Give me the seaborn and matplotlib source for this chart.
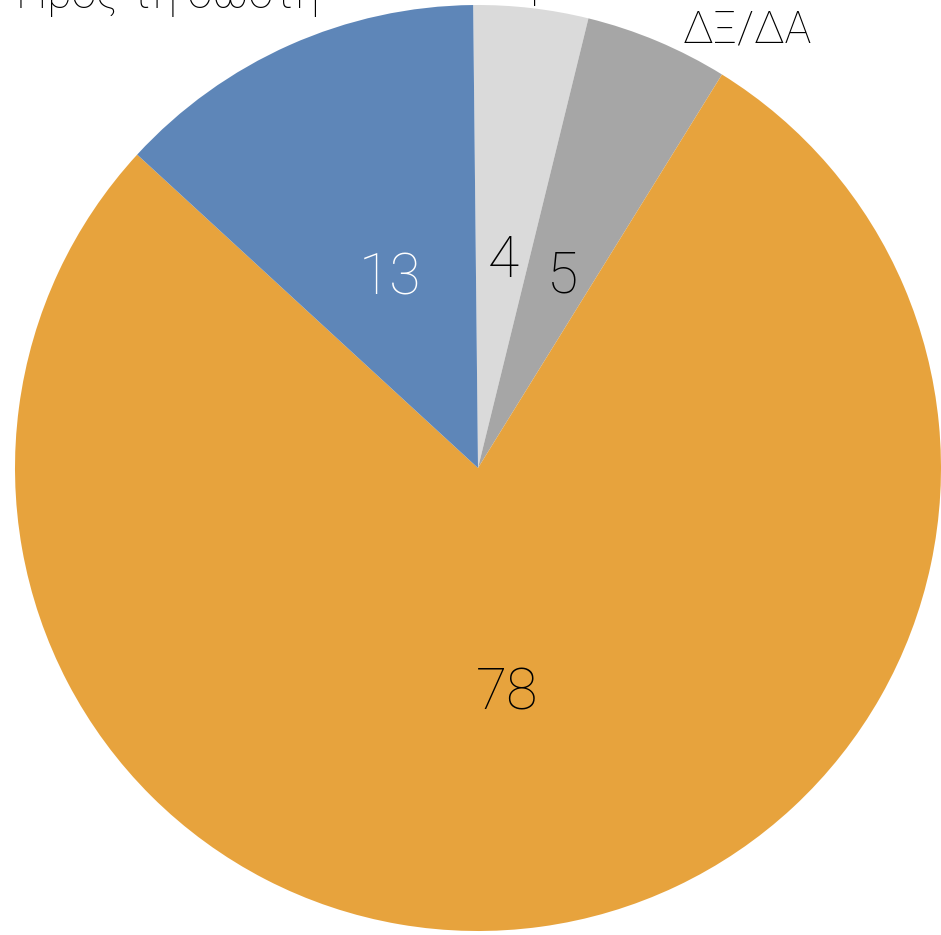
import matplotlib
matplotlib.use('Agg')
import matplotlib.pyplot as plt
from matplotlib.transforms import offset_copy
import seaborn as sns

# δεδομένα (δεξιόστροφα από την κορυφή)
categories = ['Καμία', 'ΔΞ/ΔΑ', '', 'Προς τη σωστή']
values = [4, 5, 78, 13]
slice_colors = ['#DADADA', '#A6A6A6', '#E7A33D', '#5E86B8']
value_colors = ['black', 'black', 'black', 'white']

sns.set_theme(style='white')
plt.rcParams['font.family'] = ['Roboto', 'DejaVu Sans']

fig = plt.figure(figsize=(9.41, 9.35), dpi=100)
ax = fig.add_axes([15 / 941, 4 / 935, 926 / 941, 926 / 935])

wedges, _, autotexts = ax.pie(
    values,
    colors=slice_colors,
    startangle=90.6,
    counterclock=False,
    radius=1.0,
    autopct=lambda p: f'{p:.0f}',
    pctdistance=0.47,
    wedgeprops={'linewidth': 0},
    textprops={'fontsize': 41, 'fontweight': 'light'},
)
for t, c in zip(autotexts, value_colors):
    t.set_color(c)
    # λίγο πιο χαμηλά, όπως στο πρωτότυπο
    t.set_transform(offset_copy(t.get_transform(), fig=fig, x=0, y=-10, units='dots'))

# εξωτερικές ετικέτες (κομμένες στο πάνω μέρος όπως στο πρωτότυπο)
label_pos = {
    'Καμία': (0.123, 1.017, 'center'),
    'ΔΞ/ΔΑ': (0.443, 0.918, 'left'),
    'Προς τη σωστή': (-0.341, 0.993, 'right'),
}
for name in categories:
    if name in label_pos:
        x, y, ha = label_pos[name]
        ax.text(x, y, name, ha=ha, va='baseline', fontsize=32,
                fontweight='light', color='black')

ax.set_xlim(-1, 1)
ax.set_ylim(-1, 1)
ax.set_aspect('equal')
ax.axis('off')

fig.savefig('out.png', dpi=100)
plt.close(fig)
